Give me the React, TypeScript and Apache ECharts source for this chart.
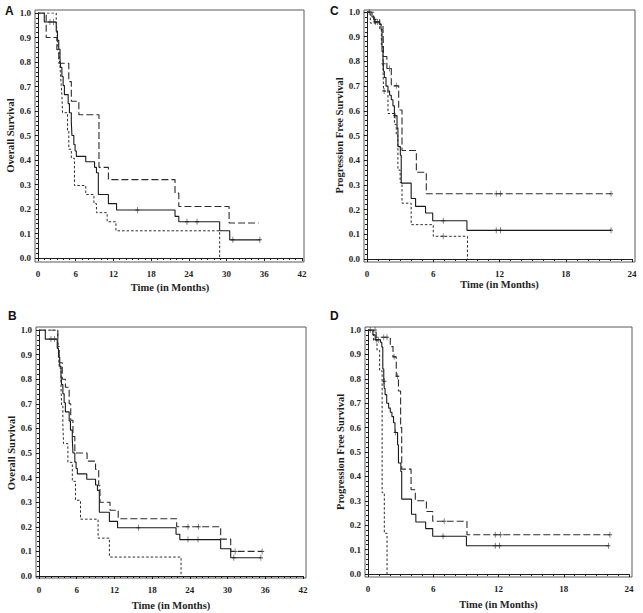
import { useEffect, useRef } from "react";
import * as echarts from "echarts";

type Pt = [number, number];

// Kaplan–Meier steps: [months, survival]; censor marks in separate lists
const osAll: Pt[] = [
    [0, 1], [1.0, 0.963], [2.9, 0.926], [3.1, 0.889], [3.3, 0.852], [3.5, 0.815], [3.6, 0.778],
    [3.8, 0.741], [4.0, 0.704], [4.2, 0.667], [4.8, 0.63], [5.0, 0.593], [5.3, 0.556], [5.4, 0.5],
    [5.7, 0.463], [5.9, 0.437], [6.1, 0.415], [7.6, 0.393], [9.0, 0.37], [9.3, 0.348], [9.6, 0.259],
    [11.2, 0.222], [12.5, 0.196], [21.8, 0.17], [22.4, 0.148], [28.9, 0.111], [30.5, 0.074], [35.3, 0.074],
];
const osAllCensor: Pt[] = [[1.9, 0.963], [2.5, 0.963], [15.8, 0.196], [23.7, 0.148], [25.3, 0.148], [31.0, 0.074], [35.3, 0.074]];

const osA1: Pt[] = [
    [0, 1], [1.3, 0.9], [3.0, 0.85], [3.3, 0.795], [4.9, 0.72], [5.3, 0.64], [6.5, 0.585],
    [9.7, 0.37], [11.2, 0.32], [21.8, 0.265], [22.4, 0.21], [30.4, 0.143], [35.1, 0.143],
];
const osA2: Pt[] = [
    [0, 1], [2.9, 0.963], [3.0, 0.926], [3.1, 0.889], [3.2, 0.852], [3.4, 0.815], [3.5, 0.778],
    [3.6, 0.741], [3.7, 0.704], [3.8, 0.667], [3.9, 0.593], [4.7, 0.519], [4.9, 0.444], [5.3, 0.407],
    [5.8, 0.296], [7.6, 0.259], [8.9, 0.222], [9.3, 0.185], [11.0, 0.148], [12.4, 0.111], [28.9, 0],
];

const osB1: Pt[] = [
    [0, 1], [3.0, 0.933], [3.2, 0.867], [3.7, 0.8], [4.2, 0.767], [4.8, 0.7], [5.05, 0.633],
    [5.4, 0.567], [5.7, 0.5], [7.65, 0.467], [9.0, 0.433], [9.5, 0.367], [9.7, 0.3], [11.3, 0.267],
    [12.6, 0.233], [21.9, 0.2], [28.9, 0.15], [30.5, 0.1], [35.5, 0.1],
];
const osB1Censor: Pt[] = [[23.7, 0.2], [25.4, 0.2], [31.2, 0.1], [35.5, 0.1]];
const osB2: Pt[] = [
    [0, 1], [3.0, 0.923], [3.2, 0.846], [3.5, 0.769], [3.6, 0.692], [3.8, 0.615], [3.9, 0.538],
    [4.6, 0.462], [5.3, 0.385], [5.8, 0.308], [6.6, 0.231], [9.4, 0.154], [11.2, 0.077], [22.6, 0],
];

const pfsAll: Pt[] = [
    [0, 1], [0.45, 0.98], [0.66, 0.96], [1.15, 0.95], [1.27, 0.93], [1.36, 0.84], [1.45, 0.79],
    [1.5, 0.76], [1.57, 0.735], [1.72, 0.7], [1.9, 0.68], [2.05, 0.663], [2.2, 0.645], [2.35, 0.62],
    [2.48, 0.58], [2.72, 0.53], [2.8, 0.455], [3.02, 0.42], [3.1, 0.307], [4.0, 0.245], [4.4, 0.213],
    [5.3, 0.186], [5.95, 0.155], [9.05, 0.116], [22.1, 0.116],
];
const pfsAllCensor: Pt[] = [
    [0.2, 1], [0.75, 0.96], [0.95, 0.96], [1.5, 0.79], [2.55, 0.58], [6.9, 0.155], [11.7, 0.116], [12.1, 0.116], [22.1, 0.116],
];

const pfsC1: Pt[] = [
    [0, 1], [0.6, 0.97], [1.15, 0.95], [1.45, 0.93], [1.5, 0.82], [1.8, 0.771], [2.2, 0.701],
    [2.87, 0.603], [3.17, 0.439], [4.47, 0.351], [5.37, 0.264], [22.1, 0.264],
];
const pfsC1Censor: Pt[] = [[2.05, 0.771], [2.65, 0.701], [11.7, 0.264], [12.1, 0.264], [22.1, 0.264]];
const pfsC2: Pt[] = [
    [0, 1], [0.3, 0.955], [1.15, 0.93], [1.3, 0.86], [1.45, 0.77], [1.5, 0.68], [1.9, 0.589],
    [2.48, 0.545], [2.65, 0.5], [2.8, 0.36], [3.0, 0.31], [3.17, 0.226], [4.0, 0.139], [6.0, 0.092], [9.1, 0],
];
const pfsC2Censor: Pt[] = [[1.55, 0.68], [6.9, 0.092]];

const pfsD1: Pt[] = [
    [0, 1], [0.75, 0.97], [2.05, 0.932], [2.3, 0.89], [2.6, 0.81], [2.8, 0.75], [3.0, 0.6],
    [3.1, 0.43], [3.96, 0.345], [4.35, 0.3], [5.37, 0.256], [5.95, 0.216], [9.1, 0.161], [22.25, 0.161],
];
const pfsD1Censor: Pt[] = [
    [0.65, 1], [1.45, 0.97], [1.75, 0.97], [2.4, 0.89], [2.7, 0.81], [7.0, 0.216], [11.7, 0.161], [12.2, 0.161], [22.25, 0.161],
];
const pfsD2: Pt[] = [[0, 1], [0.5, 0.958], [0.83, 0.917], [1.07, 0.833], [1.3, 0.333], [1.5, 0.167], [1.75, 0]];

const monthStep = 6;
const yStep = 0.1;

const SERIF = "Liberation Serif";
const INK = "#1e1e1e";

const styles = {
    solid: { type: "solid", width: 1.1, color: "#1a1a1a" },
    long: { type: [7, 3], width: 1.1, color: "#2c2c2c" },
    short: { type: [2.5, 2], width: 1, color: "#2c2c2c" },
} as const;

type Curve = { data: Pt[]; censor?: Pt[]; style: keyof typeof styles };

type Panel = {
    letter: string;
    letterPos: [number, number];
    frame: [number, number, number, number];
    plot: [number, number, number, number];
    xMax: number;
    yName: string;
    xGap: number;
    yGap: number;
    curves: Curve[];
};

const panels: Panel[] = [
    {
        letter: "A", letterPos: [5, 5], frame: [35, 10, 269, 252], plot: [38, 13, 264, 245], xMax: 42,
        yName: "Overall Survival", xGap: 20, yGap: 19,
        curves: [
            { data: osAll, censor: osAllCensor, style: "solid" },
            { data: osA1, style: "long" },
            { data: osA2, style: "short" },
        ],
    },
    {
        letter: "C", letterPos: [330, 5], frame: [364, 10, 271, 252], plot: [367, 12, 265, 247], xMax: 24,
        yName: "Progression Free Survival", xGap: 16, yGap: 19,
        curves: [
            { data: pfsAll, censor: pfsAllCensor, style: "solid" },
            { data: pfsC1, censor: pfsC1Censor, style: "long" },
            { data: pfsC2, censor: pfsC2Censor, style: "short" },
        ],
    },
    {
        letter: "B", letterPos: [8, 310], frame: [36, 327, 270, 251], plot: [39, 330, 264, 246], xMax: 42,
        yName: "Overall Survival", xGap: 22, yGap: 18,
        curves: [
            { data: osAll, censor: osAllCensor, style: "solid" },
            { data: osB1, censor: osB1Censor, style: "long" },
            { data: osB2, style: "short" },
        ],
    },
    {
        letter: "D", letterPos: [330, 310], frame: [365, 327, 267, 250], plot: [368, 330, 261, 244], xMax: 24,
        yName: "Progression Free Survival", xGap: 22, yGap: 18,
        curves: [
            { data: pfsAll, censor: pfsAllCensor, style: "solid" },
            { data: pfsD1, censor: pfsD1Censor, style: "long" },
            { data: pfsD2, style: "short" },
        ],
    },
];

// small "+" used for censored observations
const PLUS = "path://M2.5,0H3.5V2.5H6V3.5H3.5V6H2.5V3.5H0V2.5H2.5Z";

function buildOption(): echarts.EChartsOption {
    const grid: any[] = [];
    const xAxis: any[] = [];
    const yAxis: any[] = [];
    const series: any[] = [];
    const graphic: any[] = [];

    const labelStyle = { color: INK, fontFamily: SERIF, fontWeight: "bold", fontSize: 9 };
    const nameStyle = { color: INK, fontFamily: SERIF, fontWeight: "bold", fontSize: 10.5 };

    panels.forEach((p, i) => {
        const di = i * 2; // data grid
        const fi = i * 2 + 1; // frame grid (box only)
        const [pl, pt, pw, ph] = p.plot;
        const [fl, ft, fw, fh] = p.frame;

        grid.push({ left: pl, top: pt, width: pw, height: ph, show: false });
        grid.push({
            left: fl, top: ft, width: fw, height: fh, show: true,
            borderColor: "#5a5a5a", borderWidth: 1, backgroundColor: "transparent",
        });

        // axes sit on the frame edges, a few px outside the data range
        xAxis.push({
            type: "value", gridIndex: di, min: 0, max: p.xMax, interval: monthStep,
            offset: ft + fh - (pt + ph),
            name: "Time (in Months)", nameLocation: "middle", nameGap: p.xGap, nameTextStyle: nameStyle,
            axisLine: { show: true, lineStyle: { color: INK, width: 1 } },
            axisTick: { show: true, length: 3, lineStyle: { color: INK } },
            minorTick: { show: true, splitNumber: 6, length: 2, lineStyle: { color: INK } },
            axisLabel: { ...labelStyle, margin: 7 },
            splitLine: { show: false },
        });
        xAxis.push({ type: "value", gridIndex: fi, show: false, min: 0, max: 1 });

        yAxis.push({
            type: "value", gridIndex: di, min: 0, max: 1, interval: yStep,
            offset: pl - fl,
            name: p.yName, nameLocation: "middle", nameGap: p.yGap, nameTextStyle: nameStyle,
            axisLine: { show: true, lineStyle: { color: INK, width: 1 } },
            axisTick: { show: true, length: 3, lineStyle: { color: INK } },
            minorTick: { show: true, splitNumber: 5, length: 2, lineStyle: { color: INK } },
            axisLabel: { ...labelStyle, margin: 4, formatter: (v: number) => v.toFixed(1) },
            splitLine: { show: false },
        });
        yAxis.push({ type: "value", gridIndex: fi, show: false, min: 0, max: 1 });

        p.curves.forEach((c) => {
            const ls = styles[c.style];
            series.push({
                type: "line", xAxisIndex: di, yAxisIndex: di, data: c.data, step: "end",
                showSymbol: false, symbol: "none", lineStyle: { ...ls }, z: 3, silent: true,
            });
            if (c.censor) {
                series.push({
                    type: "scatter", xAxisIndex: di, yAxisIndex: di, data: c.censor,
                    symbol: PLUS, symbolSize: [4, 6], itemStyle: { color: ls.color }, z: 4, silent: true,
                });
            }
        });

        graphic.push({
            type: "text", left: p.letterPos[0], top: p.letterPos[1],
            style: { text: p.letter, font: "bold 12px 'Liberation Sans'", fill: "#111" },
        });
    });

    return { animation: false, backgroundColor: "#ffffff", grid, xAxis, yAxis, series, graphic };
}

export default function App() {
    const chartRef = useRef<HTMLDivElement | null>(null);

    useEffect(() => {
        if (!chartRef.current) return;
        const chart = echarts.init(chartRef.current, undefined, { renderer: "svg" });
        chart.setOption(buildOption());
        return () => {
            chart.dispose();
        };
    }, []);

    return (
        <div
            ref={chartRef}
            style={{ position: "fixed", left: 0, top: 0, width: 643, height: 613, background: "#fff" }}
        />
    );
}
